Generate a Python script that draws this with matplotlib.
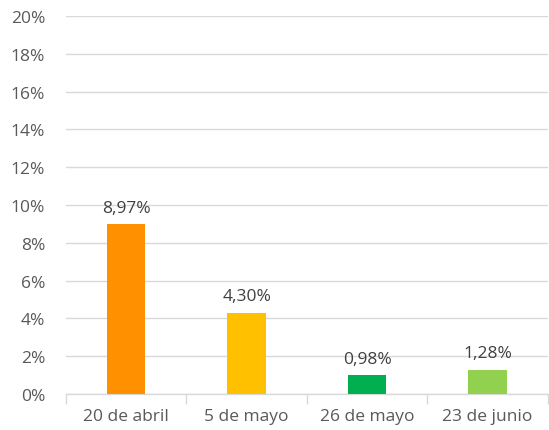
import matplotlib
matplotlib.use("Agg")
import matplotlib.pyplot as plt
from matplotlib.ticker import FixedLocator, FuncFormatter

categories = ["20 de abril", "5 de mayo", "26 de mayo", "23 de junio"]
values = [8.97, 4.30, 0.98, 1.28]
labels = ["8,97%", "4,30%", "0,98%", "1,28%"]
colors = ["#FF9100", "#FFC000", "#00B050", "#92D050"]
yticks = [0, 2, 4, 6, 8, 10, 12, 14, 16, 18, 20]

plt.rcParams['font.family'] = ['Open Sans', 'DejaVu Sans']
fig = plt.figure(figsize=(5.49, 4.31), dpi=100)
ax = fig.add_axes([0.120, 0.0835, 0.878, 0.877])

x = list(range(len(categories)))
ax.bar(x, values, width=0.32, color=colors, zorder=3)
for xi, v, lab in zip(x, values, labels):
    ax.text(xi, v + 0.45, lab, ha='center', va='bottom', fontsize=12.5, color='#404040')

ax.set_xlim(-0.5, len(categories) - 0.5)
ax.set_ylim(0, 20)
ax.yaxis.set_major_locator(FixedLocator(yticks))
ax.yaxis.set_major_formatter(FuncFormatter(lambda v, p: f"{int(v)}%"))
ax.grid(axis='y', color='#D9D9D9', linewidth=1, zorder=0)
for s in ['top', 'right', 'left']:
    ax.spines[s].set_visible(False)
ax.spines['bottom'].set_color('#D9D9D9')
ax.spines['bottom'].set_linewidth(1)
ax.tick_params(axis='y', length=0, labelsize=12.5, labelcolor='#595959', pad=15)
ax.set_xticks(x)
ax.set_xticklabels(categories)
ax.tick_params(axis='x', length=0, labelsize=12.5, labelcolor='#595959', pad=10)
ax.set_xticks([-0.5, 0.5, 1.5, 2.5, 3.5], minor=True)
ax.tick_params(axis='x', which='minor', length=7, color='#D9D9D9', width=1)

fig.savefig("out.png", dpi=100)
